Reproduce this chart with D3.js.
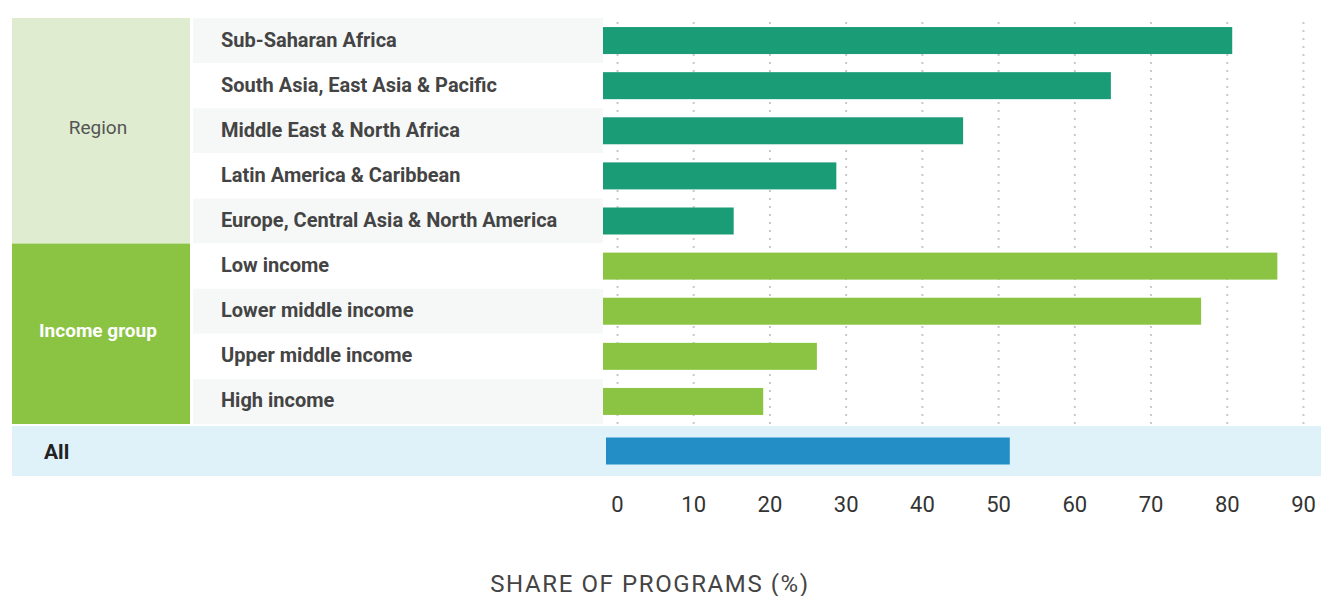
<!DOCTYPE html>
<html>
<head>
<meta charset="utf-8">
<script src="https://cdn.jsdelivr.net/npm/d3@7"></script>
<style>
  body { margin: 0; background: #fff; }
  text { font-family: Roboto, "Open Sans", sans-serif; }
</style>
</head>
<body>
<script>
// rows of the chart, top to bottom
var categories = ["Sub-Saharan Africa", "South Asia, East Asia & Pacific", "Middle East & North Africa",
  "Latin America & Caribbean", "Europe, Central Asia & North America",
  "Low income", "Lower middle income", "Upper middle income", "High income"];
var categoryGroup = ["Region", "Region", "Region", "Region", "Region",
  "Income group", "Income group", "Income group", "Income group"];
var shares = [80.9, 65.3, 46.3, 30.0, 16.8, 86.7, 76.9, 27.5, 20.6];
var groups = ["Region", "Income group"];
var allLabel = "All";
var allShare = 52.3;
var tickValues = [0, 10, 20, 30, 40, 50, 60, 70, 80, 90];
var axisTitle = "SHARE OF PROGRAMS (%)";

var groupFill = {"Region": "#dfecd0", "Income group": "#8bc443"};
var groupText = {"Region": "#555555", "Income group": "#ffffff"};
var groupWeight = {"Region": "normal", "Income group": "bold"};
var barFill = {"Region": "#1a9c77", "Income group": "#8bc443"};

var chartW = 1321, chartH = 596;
var rowsTop = 18, rowsBottom = 424;

var svg = d3.select("body").append("svg")
  .attr("width", chartW)
  .attr("height", chartH);

// scales
var y = d3.scaleBand().domain(categories).range([rowsTop, rowsBottom]);
var x = d3.scaleLinear().domain([0, 90]).range([603, 1303]);   // bars
var xGrid = d3.scaleLinear().domain([0, 90]).range([617, 1303]); // grid + labels
var barH = 27;

// group boxes on the left
groups.forEach(function(g){
  var rows = categories.filter(function(c, i){ return categoryGroup[i] === g; });
  var y0 = y(rows[0]);
  var y1 = y(rows[rows.length - 1]) + y.bandwidth();
  svg.append("rect")
    .attr("x", 12).attr("y", y0)
    .attr("width", 178).attr("height", y1 - y0)
    .style("fill", groupFill[g]);
  svg.append("text")
    .attr("x", 98).attr("y", (y0 + y1) / 2 - 3)
    .attr("dy", "0.35em")
    .attr("text-anchor", "middle")
    .style("font-size", "19px")
    .style("font-weight", groupWeight[g])
    .style("fill", groupText[g])
    .text(g);
});

// alternating row backgrounds behind the labels
svg.selectAll("rect.rowbg").data(categories).enter().append("rect")
  .attr("class", "rowbg")
  .attr("x", 193)
  .attr("y", function(d){ return y(d); })
  .attr("width", 410)
  .attr("height", y.bandwidth())
  .style("fill", function(d, i){ return i % 2 === 0 ? "#f6f8f8" : "#ffffff"; });

// dotted grid
svg.append("g")
  .attr("transform", "translate(0," + rowsBottom + ")")
  .call(d3.axisBottom(xGrid).tickValues(tickValues).tickSize(-(rowsBottom - rowsTop)).tickFormat(""))
  .call(function(g){
    g.select(".domain").remove();
    g.selectAll("line")
      .style("stroke", "#c9c9c9")
      .style("stroke-width", "2px")
      .style("stroke-dasharray", "2,6");
  });

// bars
svg.selectAll("rect.bar").data(categories).enter().append("rect")
  .attr("class", "bar")
  .attr("x", x(0))
  .attr("y", function(d){ return y(d) + (y.bandwidth() - barH) / 2; })
  .attr("width", function(d, i){ return x(shares[i]) - x(0); })
  .attr("height", barH)
  .style("fill", function(d, i){ return barFill[categoryGroup[i]]; });

// row labels
svg.selectAll("text.rowlabel").data(categories).enter().append("text")
  .attr("class", "rowlabel")
  .attr("x", 221)
  .attr("y", function(d){ return y(d) + y.bandwidth() / 2 - 1; })
  .attr("dy", "0.35em")
  .style("font-size", "20px")
  .style("font-weight", "bold")
  .style("fill", "#444444")
  .text(function(d){ return d; });

// "All" row
var allY = 426, allH = 50;
svg.append("rect")
  .attr("x", 12).attr("y", allY)
  .attr("width", chartW - 12).attr("height", allH)
  .style("fill", "#dff2fa");
svg.append("rect")
  .attr("x", x(0) + 3)
  .attr("y", allY + (allH - barH) / 2)
  .attr("width", x(allShare) - x(0) - 3)
  .attr("height", barH)
  .style("fill", "#238dc6");
svg.append("text")
  .attr("x", 44).attr("y", allY + allH / 2 + 1)
  .attr("dy", "0.35em")
  .style("font-size", "21px")
  .style("font-weight", "bold")
  .style("fill", "#222222")
  .text(allLabel);

// tick labels
svg.append("g")
  .attr("transform", "translate(0,496)")
  .call(d3.axisBottom(xGrid).tickValues(tickValues).tickSize(0).tickPadding(0))
  .call(function(g){
    g.select(".domain").remove();
    g.selectAll("text")
      .attr("dy", "0.71em")
      .style("font-family", "Roboto, sans-serif")
      .style("font-size", "22px")
      .style("fill", "#333333");
  });

// axis title
svg.append("text")
  .attr("x", 650).attr("y", 592)
  .attr("text-anchor", "middle")
  .style("font-size", "24px")
  .style("letter-spacing", "1.6px")
  .style("fill", "#444444")
  .text(axisTitle);
</script>
</body>
</html>
